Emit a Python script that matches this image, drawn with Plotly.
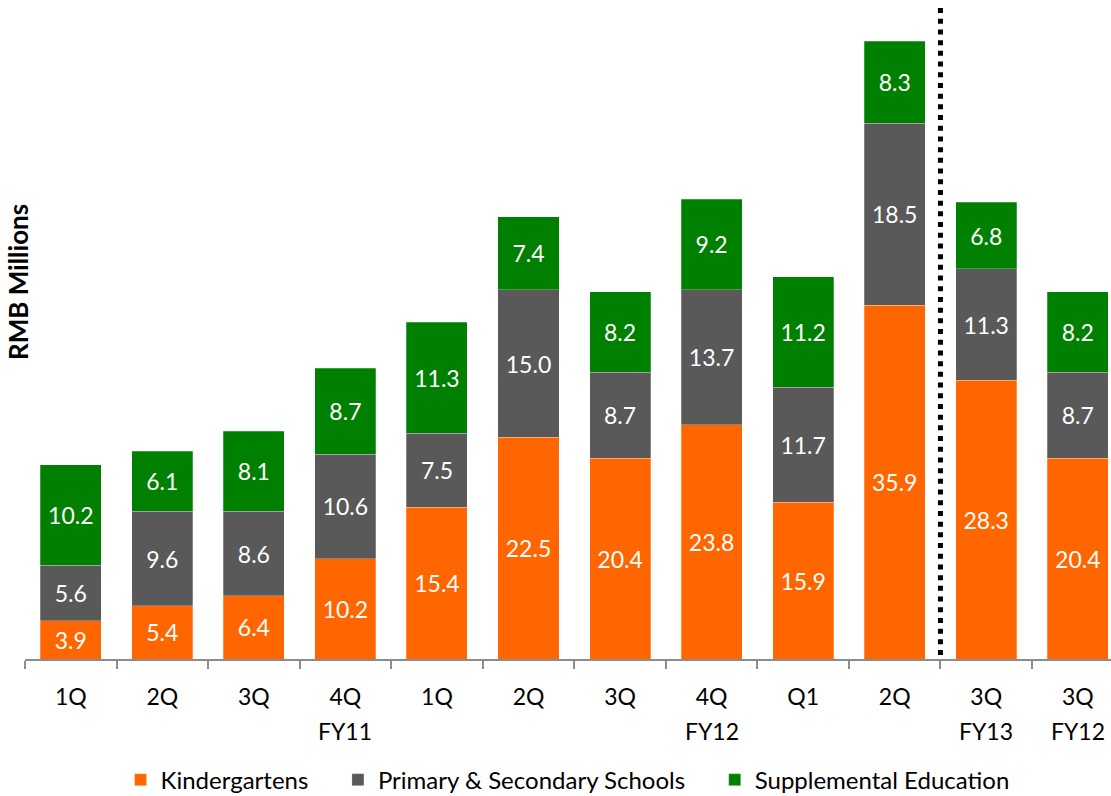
import plotly.graph_objects as go

quarters = ["1Q", "2Q", "3Q", "4Q", "1Q", "2Q", "3Q", "4Q", "Q1", "2Q", "3Q", "3Q"]
fiscal_years = ["", "", "", "FY11", "", "", "", "FY12", "", "", "FY13", "FY12"]
kindergartens = [3.9, 5.4, 6.4, 10.2, 15.4, 22.5, 20.4, 23.8, 15.9, 35.9, 28.3, 20.4]
primary_secondary = [5.6, 9.6, 8.6, 10.6, 7.5, 15.0, 8.7, 13.7, 11.7, 18.5, 11.3, 8.7]
supplemental = [10.2, 6.1, 8.1, 8.7, 11.3, 7.4, 8.2, 9.2, 11.2, 8.3, 6.8, 8.2]

ids = ["c%d" % i for i in range(len(quarters))]
FONT = "Lato, 'Open Sans', sans-serif"
PAD = "\u00a0" * 4

fig = go.Figure()
series = [
    ("Kindergartens" + PAD, kindergartens, "#FF6600"),
    ("Primary & Secondary Schools" + PAD, primary_secondary, "#595959"),
    ("Supplemental Education", supplemental, "#008000"),
]
for name, vals, color in series:
    fig.add_trace(go.Bar(
        x=ids, y=vals, name=name,
        marker=dict(color=color, line=dict(color="rgba(255,255,255,0.5)", width=0.5)),
        texttemplate="%{y:.1f}", textposition="inside", insidetextanchor="middle",
        textfont=dict(color="white", size=23, family=FONT),
        hoverinfo="skip",
    ))

fig.update_layout(
    barmode="stack",
    bargap=0.333,
    width=1111, height=796,
    margin=dict(l=25, r=0, t=8, b=137, autoexpand=False),
    paper_bgcolor="white", plot_bgcolor="white",
    font=dict(family=FONT, color="black", size=23),
    uniformtext=dict(minsize=23, mode="show"),
    legend=dict(orientation="h", x=0.088, xanchor="left", y=-0.186, yanchor="middle",
                font=dict(size=24, family=FONT), traceorder="normal", itemwidth=30),
    showlegend=True,
)
fig.update_xaxes(
    type="category", tickvals=ids, ticktext=quarters,
    range=[-0.5, 11.363], automargin=False,
    showline=True, linecolor="#8c8c8c", linewidth=2,
    ticks="outside", tickson="boundaries", ticklen=8, tickcolor="#8c8c8c", tickwidth=2,
    ticklabelstandoff=16,
    tickfont=dict(size=23, family=FONT, color="black"),
    showgrid=False, zeroline=False,
)
fig.update_yaxes(range=[0, 66.1], visible=False, showgrid=False, zeroline=False, automargin=False)

for xid, fy in zip(ids, fiscal_years):
    if fy:
        fig.add_annotation(text=fy, xref="x", yref="paper", x=xid, y=-0.1106,
                           xanchor="center", yanchor="middle", showarrow=False,
                           font=dict(size=23, family=FONT, color="black"))

fig.add_shape(type="line", xref="x", yref="y", x0=9.5, x1=9.5, y0=0.4, y1=66.1,
              line=dict(color="black", width=5, dash="5px,5.7px"))

fig.add_annotation(text="<b>RMB Millions</b>", xref="paper", yref="paper",
                   x=-0.00645, y=0.579, xanchor="center", yanchor="middle",
                   textangle=-90, showarrow=False,
                   font=dict(size=26, family=FONT, color="black"))

fig.write_html("out.html")
